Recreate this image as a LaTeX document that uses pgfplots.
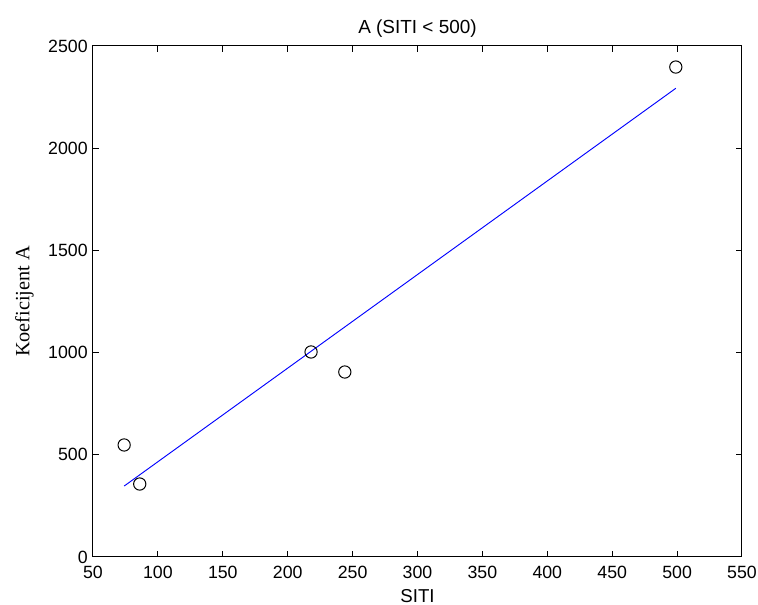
\documentclass[border=0pt]{standalone}
\usepackage{pgfplots}
\pgfplotsset{compat=1.18}
\usepackage{fontspec}
\setmainfont{Liberation Sans}
\newfontfamily\timesf{Liberation Serif}
\begin{document}
\begin{tikzpicture}
\begin{axis}[
  name=ax,
  at={(0,0)}, anchor=south west,
  scale only axis,
  width=486.75pt, height=383.25pt,
  xmin=50, xmax=550, ymin=0, ymax=2500,
  xtick={50,100,...,550}, ytick={0,500,...,2500},
  tick align=inside, major tick length=4.5pt,
  axis line style={line width=0.75pt},
  every tick/.style={black, line width=0.75pt},
  /pgf/number format/assume math mode=true,
  /pgf/number format/set thousands separator={},
  ticklabel style={font=\fontsize{13.3}{15}\selectfont},
  xticklabel style={yshift=-3.5pt},
  yticklabel style={xshift=-0.5pt},
  title={A (SITI < 500)},
  title style={font=\fontsize{14.2}{16}\selectfont, at={(0.5,1)}, yshift=3pt, anchor=base},
  xlabel={SITI},
  xlabel style={font=\fontsize{14}{16}\selectfont, at={(0.5,0)}, anchor=base, yshift=-34.5pt},
  ylabel={\timesf Koeficijent A},
  ylabel style={font=\fontsize{15.2}{17}\selectfont, at={(-0.098,0.5)}, anchor=base},
]
\addplot[blue, line width=0.7pt] coordinates {(74,347) (499,2293)};
\addplot[only marks, mark=o, mark size=4.6pt, black, mark options={line width=0.75pt}] coordinates {
(74,548) (86,357) (218,1003) (244,905) (499,2397)};
\end{axis}
\pgfresetboundingbox
\useasboundingbox (-69.75pt,-36pt) rectangle (498.75pt,417.75pt);
\end{tikzpicture}
\end{document}
